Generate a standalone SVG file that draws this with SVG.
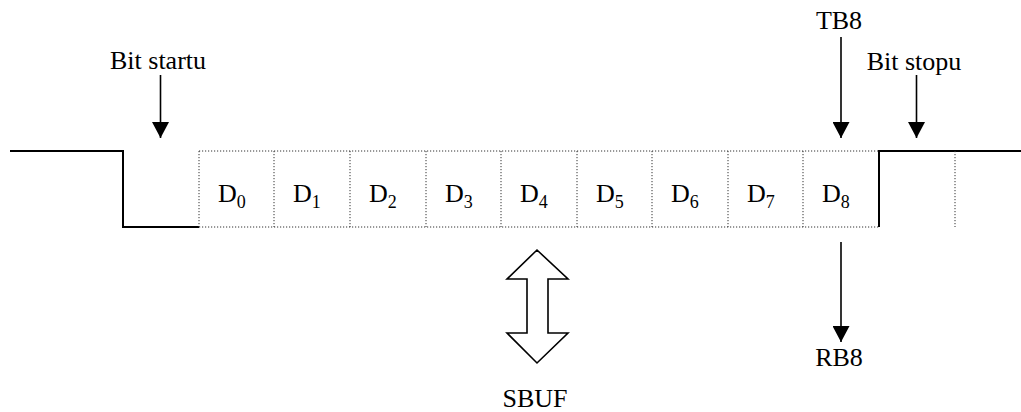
<svg xmlns="http://www.w3.org/2000/svg" width="1021" height="412" viewBox="0 0 1021 412">
  <style>
    .lbl { font-family: "Liberation Serif", "Times New Roman", serif; font-size: 26px; fill: #000; }
    .d { font-family: "Liberation Serif", "Times New Roman", serif; font-size: 26px; fill: #000; }
    .sub { font-size: 18px; }
    .sig { fill: none; stroke: #000; stroke-width: 2; }
    .dot { fill: none; stroke: #333; stroke-width: 1; stroke-dasharray: 1.2 1.8; }
    .arr { fill: none; stroke: #000; stroke-width: 1.6; marker-end: url(#head); }
  </style>
  <defs>
    <marker id="head" viewBox="0 0 16 17" markerWidth="16" markerHeight="17" refX="16" refY="8.5" orient="auto" markerUnits="userSpaceOnUse">
      <path d="M0,0 L16,8.5 L0,17 z" fill="#000"/>
    </marker>
  </defs>

  <!-- serial frame waveform -->
  <g id="waveform">
    <path class="sig" d="M10,151 H123 V227 H199"/>
    <path class="sig" d="M879,227 V151 H1021"/>
    <path class="dot" d="M199,151 H879 M199,227 H879"/>
    <path class="dot" d="M199,151 V227 M274,151 V227 M350,151 V227 M426,151 V227 M501,151 V227 M577,151 V227 M652,151 V227 M728,151 V227 M803,151 V227 M955,151 V227"/>
  </g>

  <!-- data bits -->
  <g id="bits">
    <text class="d" x="218" y="202">D<tspan class="sub" dy="6">0</tspan></text>
    <text class="d" x="293" y="202">D<tspan class="sub" dy="6">1</tspan></text>
    <text class="d" x="369" y="202">D<tspan class="sub" dy="6">2</tspan></text>
    <text class="d" x="445" y="202">D<tspan class="sub" dy="6">3</tspan></text>
    <text class="d" x="520" y="202">D<tspan class="sub" dy="6">4</tspan></text>
    <text class="d" x="596" y="202">D<tspan class="sub" dy="6">5</tspan></text>
    <text class="d" x="671" y="202">D<tspan class="sub" dy="6">6</tspan></text>
    <text class="d" x="747" y="202">D<tspan class="sub" dy="6">7</tspan></text>
    <text class="d" x="822" y="202">D<tspan class="sub" dy="6">8</tspan></text>
  </g>

  <g id="start-label">
    <text class="lbl" x="158" y="69" text-anchor="middle">Bit startu</text>
  </g>
  <g id="tb8-label">
    <text class="lbl" x="839" y="29" text-anchor="middle">TB8</text>
  </g>
  <g id="stop-label">
    <text class="lbl" x="914" y="70" text-anchor="middle">Bit stopu</text>
  </g>
  <g id="rb8-label">
    <text class="lbl" x="839" y="366" text-anchor="middle">RB8</text>
  </g>
  <g id="sbuf">
    <polygon points="537,250 568,279 548,279 548,333 568,333 537,363 507,333 527,333 527,279 507,279" fill="#fff" stroke="#000" stroke-width="1.6"/>
    <text class="lbl" x="535" y="407" text-anchor="middle">SBUF</text>
  </g>

  <!-- pointer arrows -->
  <g id="connectors">
    <line class="arr" x1="160.5" y1="75" x2="160.5" y2="138"/>
    <line class="arr" x1="841" y1="37" x2="841" y2="138"/>
    <line class="arr" x1="916.5" y1="75" x2="916.5" y2="138"/>
    <line class="arr" x1="841" y1="242" x2="841" y2="342"/>
  </g>
</svg>
